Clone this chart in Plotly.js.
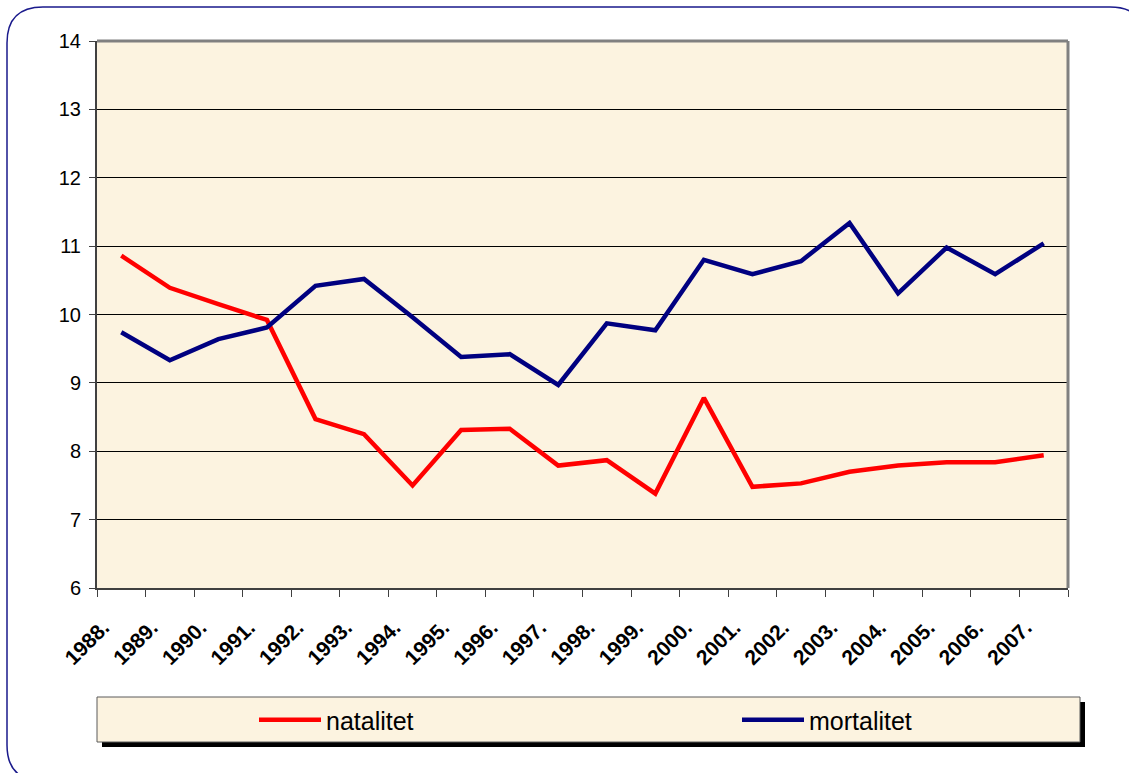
<!DOCTYPE html>
<html>
<head>
<meta charset="utf-8">
<script src="https://cdn.plot.ly/plotly-3.0.1.min.js"></script>
<style>html,body{margin:0;padding:0;background:#fff;}#chart{width:1129px;height:773px;}</style>
</head>
<body>
<div id="chart"></div>
<script>
const years = ["1988.","1989.","1990.","1991.","1992.","1993.","1994.","1995.","1996.","1997.","1998.","1999.","2000.","2001.","2002.","2003.","2004.","2005.","2006.","2007."];
const natalitet = [10.86,10.39,10.15,9.92,8.47,8.25,7.50,8.31,8.33,7.79,7.87,7.38,8.78,7.48,7.53,7.70,7.79,7.84,7.84,7.94];
const mortalitet = [9.74,9.33,9.64,9.81,10.42,10.52,9.96,9.38,9.42,8.97,9.87,9.77,10.80,10.59,10.78,11.34,10.31,10.98,10.59,11.04];
const yTicks = [6,7,8,9,10,11,12,13,14];

const W = 1129, H = 773;
const L = 97, R = 1068, T = 41, B = 588;
const px = x => (x - L) / (R - L);
const py = y => (B - y) / (B - T);

function roundRect(x0, y0, x1, y1, r) {
  const X = v => px(v), Y = v => py(v);
  return `M${X(x0 + r)},${Y(y0)} L${X(x1 - r)},${Y(y0)} Q${X(x1)},${Y(y0)} ${X(x1)},${Y(y0 + r)} ` +
         `L${X(x1)},${Y(y1 - r)} Q${X(x1)},${Y(y1)} ${X(x1 - r)},${Y(y1)} ` +
         `L${X(x0 + r)},${Y(y1)} Q${X(x0)},${Y(y1)} ${X(x0)},${Y(y1 - r)} ` +
         `L${X(x0)},${Y(y0 + r)} Q${X(x0)},${Y(y0)} ${X(x0 + r)},${Y(y0)} Z`;
}

const traces = [
  {x: years, y: natalitet, type: 'scatter', mode: 'lines', name: 'natalitet', legend: 'legend',
   line: {color: '#FF0000', width: 4.5}},
  {x: years, y: mortalitet, type: 'scatter', mode: 'lines', name: 'mortalitet', legend: 'legend2',
   line: {color: '#000080', width: 4.5}}
];

const shapes = [
  {type: 'path', xref: 'paper', yref: 'paper', path: roundRect(7, 7, 1146, 781, 36),
   line: {color: '#1A1A8C', width: 1.5}, fillcolor: 'rgba(0,0,0,0)', layer: 'below'},
  {type: 'line', xref: 'paper', yref: 'paper', x0: 0, x1: 1, y0: 1, y1: 1, line: {color: '#808080', width: 3}},
  {type: 'line', xref: 'paper', yref: 'paper', x0: 1, x1: 1, y0: 0, y1: 1, line: {color: '#808080', width: 3}},
  {type: 'rect', xref: 'paper', yref: 'paper', x0: px(102), x1: px(1085), y0: py(747), y1: py(702),
   line: {width: 0}, fillcolor: '#000000'},
  {type: 'rect', xref: 'paper', yref: 'paper', x0: px(97), x1: px(1080), y0: py(742), y1: py(697),
   line: {color: '#5a5a5a', width: 1}, fillcolor: '#FCF3E0'}
];

const legendBase = {
  orientation: 'h', xanchor: 'left', y: py(720), yanchor: 'middle',
  bgcolor: 'rgba(0,0,0,0)', borderwidth: 0,
  font: {size: 25, family: 'Liberation Sans, Arial, sans-serif', color: '#000'},
  itemwidth: 62
};

const layout = {
  width: W, height: H,
  margin: {l: L, r: W - R, t: T, b: H - B, pad: 0},
  paper_bgcolor: '#FFFFFF',
  plot_bgcolor: '#FCF3E0',
  font: {family: 'Liberation Sans, Arial, sans-serif', color: '#000'},
  xaxis: {
    type: 'category', tickson: 'boundaries', showgrid: false,
    ticks: 'outside', ticklen: 7, tickcolor: '#404040', tickwidth: 1,
    showline: true, linecolor: '#404040', linewidth: 2,
    tickangle: -45, ticklabelshift: -18, ticklabelstandoff: 17,
    tickfont: {size: 21, family: 'Liberation Sans, Arial, sans-serif', weight: 'bold'},
    range: [-0.5, 19.5], fixedrange: true
  },
  yaxis: {
    range: [6, 14], tickvals: yTicks, ticktext: yTicks.map(String),
    showgrid: true, gridcolor: '#000000', gridwidth: 1,
    ticks: 'outside', ticklen: 6, tickcolor: '#404040',
    showline: true, linecolor: '#404040', linewidth: 2, ticklabelstandoff: 4,
    tickfont: {size: 20}, zeroline: false, fixedrange: true
  },
  showlegend: true,
  legend: Object.assign({}, legendBase, {x: px(254)}),
  legend2: Object.assign({}, legendBase, {x: px(737)}),
  shapes: shapes
};

Plotly.newPlot('chart', traces, layout, {displayModeBar: false, staticPlot: true});
</script>
</body>
</html>
